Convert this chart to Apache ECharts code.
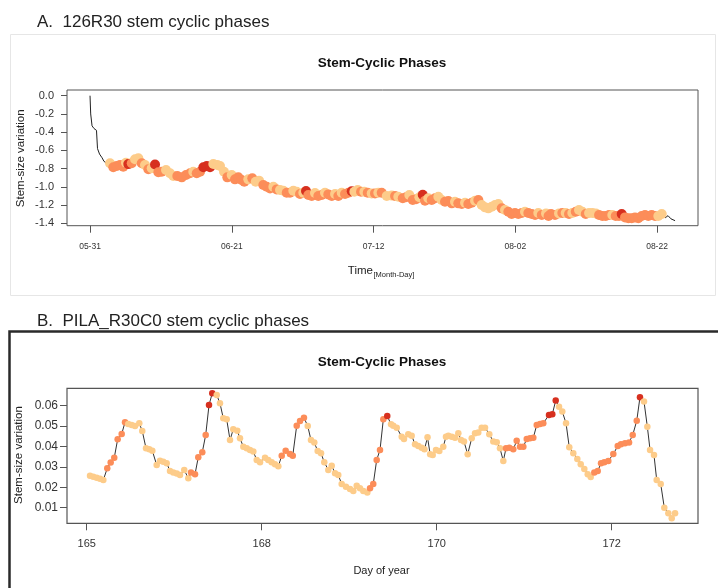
<!DOCTYPE html>
<html>
<head>
<meta charset="utf-8">
<script src="https://cdn.jsdelivr.net/npm/echarts@6/dist/echarts.min.js"></script>
<style>
html,body{margin:0;padding:0;background:#fff;}
#chart{width:718px;height:588px;}
</style>
</head>
<body>
<div id="chart"></div>
<script>
// ---------- Panel A data (days since 05-31, stem-size variation, phase) ----------
// phase: 0 = no phase (line only), 1 = shrinkage, 2 = expansion, 3 = stem radius increment
var dayA = [0,0.1,0.3,0.59,0.96,1.11,1.41,1.78,2.07,2.47,
2.96,3.45,3.96,4.44,4.93,5.33,5.67,6.18,6.67,7.16,7.66,8.15,8.64,9.14,9.63,10.12,10.62,11.26,11.85,12.34,12.93,13.59,14.22,14.81,15.30,15.81,16.30,16.79,17.29,17.78,18.27,18.86,19.26,19.85,20.34,20.99,21.48,21.97,22.46,22.86,23.45,24.04,24.55,25.04,25.67,26.18,26.67,27.16,27.66,28.15,28.64,29.14,29.63,30.12,30.62,31.11,31.60,32.00,32.34,32.84,33.33,33.82,34.33,34.81,35.30,35.81,36.30,36.79,37.29,37.78,38.27,38.77,39.16,39.66,40.15,40.64,41.14,41.73,42.22,42.71,43.21,43.96,44.70,45.19,45.67,46.33,46.81,47.30,47.81,48.30,48.79,49.29,49.63,50.12,50.62,51.11,51.60,52.10,52.59,53.08,53.59,54.07,54.56,55.07,55.56,56.04,56.55,57.04,57.53,58.03,58.52,59.01,59.51,60.00,60.49,60.99,61.48,61.97,62.47,62.96,63.45,63.96,64.44,64.93,65.44,65.93,66.41,66.92,67.56,67.93,68.30,68.89,69.48,69.97,70.47,70.96,71.45,71.96,72.44,72.93,73.44,73.93,74.41,74.92,75.41,75.90,76.40,76.89,77.38,77.88,78.37,78.77,79.26,79.75,80.25,80.74,81.23,81.73,82.22,82.71,83.21,83.70,84.19,84.70,
85.19,85.63,86.07,86.67];
var sizeA = [0,-0.2,-0.33,-0.36,-0.38,-0.58,-0.64,-0.68,-0.72,-0.74,
-0.741,-0.785,-0.771,-0.76,-0.778,-0.734,-0.75,-0.741,-0.697,-0.686,-0.741,-0.76,-0.807,-0.796,-0.755,-0.84,-0.833,-0.815,-0.851,-0.88,-0.88,-0.895,-0.87,-0.851,-0.833,-0.851,-0.833,-0.785,-0.771,-0.785,-0.749,-0.76,-0.771,-0.833,-0.895,-0.87,-0.917,-0.895,-0.924,-0.943,-0.917,-0.906,-0.943,-0.931,-0.979,-0.998,-1.016,-0.998,-1.027,-1.034,-1.042,-1.064,-1.064,-1.042,-1.053,-1.078,-1.064,-1.045,-1.089,-1.1,-1.067,-1.1,-1.089,-1.064,-1.082,-1.1,-1.078,-1.1,-1.064,-1.078,-1.064,-1.048,-1.053,-1.034,-1.053,-1.053,-1.064,-1.071,-1.071,-1.064,-1.064,-1.1,-1.095,-1.1,-1.107,-1.125,-1.114,-1.089,-1.144,-1.136,-1.114,-1.085,-1.151,-1.125,-1.144,-1.125,-1.107,-1.144,-1.162,-1.155,-1.18,-1.162,-1.18,-1.187,-1.173,-1.187,-1.173,-1.151,-1.144,-1.198,-1.224,-1.235,-1.217,-1.198,-1.187,-1.235,-1.253,-1.272,-1.297,-1.286,-1.297,-1.286,-1.272,-1.286,-1.297,-1.308,-1.286,-1.308,-1.29,-1.319,-1.297,-1.308,-1.29,-1.286,-1.286,-1.297,-1.286,-1.272,-1.253,-1.272,-1.297,-1.286,-1.286,-1.29,-1.308,-1.319,-1.319,-1.308,-1.308,-1.319,-1.319,-1.297,-1.334,-1.342,-1.342,-1.334,-1.342,-1.319,-1.308,-1.319,-1.308,-1.319,-1.319,-1.297,
-1.34,-1.315,-1.35,-1.37];
var phaseA = [0,0,0,0,0,0,0,0,0,0,
1,2,2,2,2,1,3,2,1,1,2,1,2,1,3,2,2,1,1,1,2,2,2,2,1,2,2,3,3,3,1,1,1,1,2,1,2,2,2,2,1,2,1,1,2,2,2,1,2,1,1,2,2,1,1,2,1,3,2,2,1,2,2,1,2,2,1,2,1,2,2,3,1,1,2,1,2,1,2,1,2,1,1,2,1,2,2,1,2,2,1,3,2,1,2,2,1,1,2,2,2,1,2,2,1,2,2,1,2,1,1,1,1,1,1,2,1,2,2,2,2,2,1,2,2,2,1,2,1,2,2,2,1,2,1,2,1,2,1,1,2,1,1,1,2,2,2,2,1,2,2,3,2,2,2,2,2,2,2,2,2,2,1,1,
0,0,0,0];
var xTickValuesA = [0,21,42,63,84];
var xTickLabelsA = ['05-31','06-21','07-12','08-02','08-22'];
var yTickValuesA = [0,-0.2,-0.4,-0.6,-0.8,-1.0,-1.2,-1.4];

// ---------- Panel B data (day of year, stem-size variation, phase) ----------
var dayB = [166.038,166.075,166.114,166.152,166.190,166.235,166.274,166.315,166.354,166.400,166.438,166.475,166.514,166.552,166.601,166.635,166.678,166.715,166.750,166.800,166.838,166.875,166.914,166.952,166.990,167.029,167.066,167.115,167.161,167.192,167.238,167.275,167.321,167.360,167.398,167.435,167.486,167.523,167.561,167.600,167.638,167.675,167.721,167.752,167.790,167.829,167.866,167.904,167.943,167.981,168.038,168.075,168.114,168.152,168.190,168.229,168.274,168.323,168.355,168.400,168.438,168.483,168.526,168.563,168.601,168.640,168.678,168.715,168.761,168.800,168.838,168.875,168.914,168.963,169.009,169.047,169.086,169.123,169.161,169.207,169.238,169.275,169.314,169.352,169.390,169.435,169.478,169.504,169.543,169.600,169.626,169.675,169.714,169.752,169.790,169.829,169.860,169.895,169.925,169.954,169.992,170.030,170.075,170.106,170.133,170.171,170.209,170.247,170.278,170.312,170.354,170.400,170.438,170.475,170.514,170.552,170.601,170.647,170.686,170.723,170.761,170.792,170.830,170.875,170.914,170.952,170.990,171.029,171.066,171.104,171.143,171.181,171.218,171.283,171.321,171.360,171.398,171.435,171.478,171.515,171.561,171.607,171.646,171.687,171.726,171.760,171.801,171.840,171.878,171.915,171.961,172.018,172.069,172.106,172.152,172.198,172.240,172.286,172.323,172.369,172.407,172.438,172.483,172.514,172.560,172.601,172.647,172.686,172.724];
var sizeB = [0.0257,0.0252,0.0247,0.0242,0.0236,0.0293,0.0322,0.0345,0.0435,0.0461,0.0519,0.051,0.0505,0.050,0.0514,0.0476,0.0391,0.0386,0.0379,0.0309,0.0330,0.0325,0.0318,0.0280,0.0273,0.0267,0.0260,0.0285,0.0244,0.0272,0.0264,0.0347,0.0372,0.0456,0.0603,0.0661,0.0652,0.0612,0.0538,0.0533,0.0432,0.0484,0.0477,0.0440,0.0399,0.0391,0.0383,0.0375,0.0334,0.0323,0.0345,0.0334,0.0323,0.0313,0.0303,0.0355,0.0379,0.0363,0.0355,0.0502,0.0525,0.0541,0.0500,0.0432,0.0419,0.0378,0.0367,0.0323,0.0285,0.0306,0.0269,0.0260,0.0216,0.0203,0.0192,0.0182,0.0208,0.0195,0.0182,0.0174,0.0195,0.0216,0.0334,0.0383,0.0533,0.0549,0.0509,0.0502,0.0492,0.0448,0.0437,0.0460,0.0453,0.0411,0.0402,0.0394,0.0386,0.0445,0.0362,0.0358,0.0383,0.0378,0.0399,0.0448,0.0453,0.0448,0.0443,0.0465,0.0432,0.0424,0.0362,0.0440,0.0465,0.0468,0.0492,0.0492,0.0460,0.0424,0.0421,0.0391,0.0329,0.0391,0.0394,0.0386,0.0428,0.0399,0.0399,0.0437,0.0440,0.0443,0.0505,0.0510,0.0514,0.0554,0.0558,0.0625,0.0595,0.0571,0.0514,0.0396,0.0367,0.0339,0.0313,0.0290,0.0264,0.0250,0.0273,0.0280,0.0318,0.0323,0.0329,0.0363,0.0402,0.0411,0.0416,0.0420,0.0456,0.0526,0.0641,0.0620,0.0497,0.0383,0.0358,0.0236,0.0216,0.0100,0.0073,0.0048,0.0073];
var phaseB = [1,1,1,1,1,2,2,2,2,2,2,1,1,1,1,1,1,1,1,1,1,1,1,1,1,1,1,1,1,2,2,2,2,2,3,3,1,1,1,1,1,1,1,1,1,1,1,1,1,1,1,1,1,1,1,2,2,2,2,2,2,2,1,1,1,1,1,1,1,1,1,1,1,1,1,1,1,1,1,1,2,2,2,2,2,3,1,1,1,1,1,1,1,1,1,1,1,1,1,1,1,1,1,1,1,1,1,1,1,1,1,1,1,1,1,1,1,1,1,1,1,2,2,2,2,2,2,2,2,2,2,2,2,3,3,3,1,1,1,1,1,1,1,1,1,1,2,2,2,2,2,2,2,2,2,2,2,2,3,1,1,1,1,1,1,1,1,1,1];
var xTickValuesB = [166,168,170,172];
var xTickLabelsB = ['165','168','170','172'];
var yTickValuesB = [0.01,0.02,0.03,0.04,0.05,0.06];

var phaseColors = {1:'#FDCC8A', 2:'#FC8D59', 3:'#D7301F'};

function linePts(d, v){ return d.map(function(x,i){ return [x, v[i]]; }); }
function pts(d, v, p){
  var out = [];
  d.forEach(function(x,i){ if (p[i] > 0) out.push([x, v[i], p[i]]); });
  return out;
}

var FONT = 'Liberation Sans, Arial, sans-serif';
var chart = echarts.init(document.getElementById('chart'), null, {renderer:'canvas'});

function tickAxis(o){
  return Object.assign({
    type:'value', scale:true,
    axisLine:{show:false, onZero:false},
    splitLine:{show:false}
  }, o);
}

var option = {
  animation:false,
  backgroundColor:'#fff',
  grid:[
    {left:67, top:90, width:631, height:135.7, show:true, borderColor:'#555', borderWidth:1, containLabel:false},
    {left:67, top:388.3, width:631, height:135, show:true, borderColor:'#555', borderWidth:1.2, containLabel:false}
  ],
  xAxis:[
    tickAxis({gridIndex:0, min:-3.41, max:90.07, position:'bottom',
      axisTick:{show:true, inside:false, length:7, customValues:xTickValuesA, lineStyle:{color:'#555'}},
      axisLabel:{customValues:xTickValuesA, margin:16, fontSize:8.5, color:'#333', fontFamily:FONT,
        formatter:function(v){ var i = xTickValuesA.indexOf(Math.round(v)); return i>=0 ? xTickLabelsA[i] : ''; }}}),
    tickAxis({gridIndex:1, min:165.775, max:172.986, position:'bottom',
      axisTick:{show:true, inside:false, length:7, customValues:xTickValuesB, lineStyle:{color:'#555'}},
      axisLabel:{customValues:xTickValuesB, margin:15, fontSize:11, color:'#333', fontFamily:FONT,
        formatter:function(v){ var i = xTickValuesB.indexOf(Math.round(v)); return i>=0 ? xTickLabelsB[i] : ''; }}})
  ],
  yAxis:[
    tickAxis({gridIndex:0, min:-1.425, max:0.0625, position:'left',
      axisTick:{show:true, inside:false, length:6, customValues:yTickValuesA, lineStyle:{color:'#555'}},
      axisLabel:{customValues:yTickValuesA, margin:13, fontSize:11, color:'#333', fontFamily:FONT,
        formatter:function(v){ return v.toFixed(1).replace('-0.0','0.0'); }}}),
    tickAxis({gridIndex:1, min:0.00235, max:0.0685, position:'left',
      axisTick:{show:true, inside:false, length:7, customValues:yTickValuesB, lineStyle:{color:'#555'}},
      axisLabel:{customValues:yTickValuesB, margin:9, fontSize:12, color:'#333', fontFamily:FONT,
        formatter:function(v){ return v.toFixed(2); }}})
  ],
  series:[
    {type:'line', xAxisIndex:0, yAxisIndex:0, data:linePts(dayA, sizeA), showSymbol:false, z:1,
      lineStyle:{color:'#222', width:1}, silent:true},
    {type:'scatter', xAxisIndex:0, yAxisIndex:0, data:pts(dayA, sizeA, phaseA), symbolSize:10, z:3,
      itemStyle:{opacity:1, color:function(p){ return phaseColors[p.value[2]]; }}},
    {type:'line', xAxisIndex:1, yAxisIndex:1, data:linePts(dayB, sizeB), showSymbol:false, z:1,
      lineStyle:{color:'#333', width:1}, silent:true},
    {type:'scatter', xAxisIndex:1, yAxisIndex:1, data:pts(dayB, sizeB, phaseB), symbolSize:6.5, z:3,
      itemStyle:{opacity:1, color:function(p){ return phaseColors[p.value[2]]; }}}
  ],
  graphic:[
    {type:'rect', shape:{x:10.5, y:34.5, width:705, height:261}, style:{fill:'none', stroke:'#e6e6e6', lineWidth:1}, z:-1},
    {type:'rect', shape:{x:9.5, y:331.5, width:740, height:300}, style:{fill:'none', stroke:'#2a2a2a', lineWidth:2.5}, z:-1},
    {type:'text', x:37, y:22.5, style:{text:'A.  126R30 stem cyclic phases', font:'17px '+FONT, fill:'#222', verticalAlign:'middle'}},
    {type:'text', x:37, y:321, style:{text:'B.  PILA_R30C0 stem cyclic phases', font:'17px '+FONT, fill:'#222', verticalAlign:'middle'}},
    {type:'text', x:382, y:63, style:{text:'Stem-Cyclic Phases', font:'bold 13.5px '+FONT, fill:'#111', align:'center', verticalAlign:'middle'}},
    {type:'text', x:382, y:362, style:{text:'Stem-Cyclic Phases', font:'bold 13.5px '+FONT, fill:'#111', align:'center', verticalAlign:'middle'}},
    {type:'text', x:20.7, y:158.3, rotation:Math.PI/2, style:{text:'Stem-size variation', font:'11.5px '+FONT, fill:'#222', align:'center', verticalAlign:'middle'}},
    {type:'text', x:18.5, y:455, rotation:Math.PI/2, style:{text:'Stem-size variation', font:'11.5px '+FONT, fill:'#222', align:'center', verticalAlign:'middle'}},
    {type:'text', x:373, y:270.5, style:{text:'Time', font:'11.5px '+FONT, fill:'#222', align:'right', verticalAlign:'middle'}},
    {type:'text', x:373.5, y:275, style:{text:'[Month-Day]', font:'7.5px '+FONT, fill:'#222', align:'left', verticalAlign:'middle'}},
    {type:'text', x:381.5, y:570.5, style:{text:'Day of year', font:'11px '+FONT, fill:'#222', align:'center', verticalAlign:'middle'}}
  ]
};
chart.setOption(option);
</script>
</body>
</html>
